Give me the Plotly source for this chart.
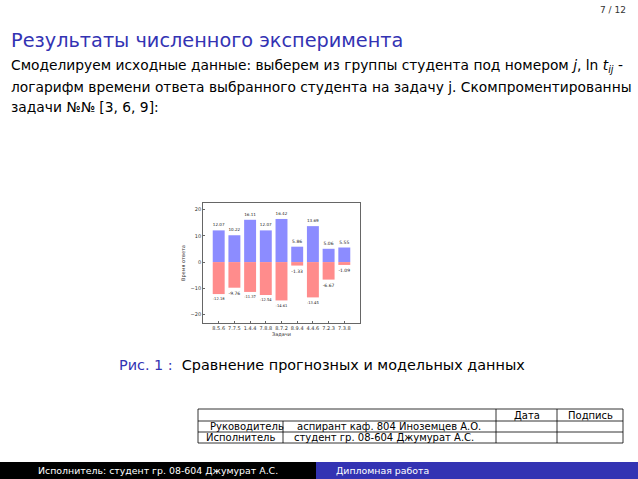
import plotly.graph_objects as go

W, H = 638, 479

categories = ["8.5.6", "7.7.5", "1.4.4", "7.8.8", "8.7.2", "8.9.4", "4.4.6", "7.2.3", "7.3.8"]
predicted = [12.07, 10.22, 16.11, 12.07, 16.42, 5.86, 13.69, 5.06, 5.55]
modelled = [-12.18, -9.76, -11.37, -12.54, -14.61, -1.33, -13.45, -6.67, -1.09]
y_ticks = [-20, -10, 0, 10, 20]

BLUE = "rgb(51,51,179)"
FONT = "DejaVu Sans"

fig = go.Figure()
fig.add_trace(go.Bar(
    x=categories, y=predicted, width=0.76,
    marker=dict(color="rgb(140,140,255)", line=dict(width=0)),
    text=[f"{v:.2f}" for v in predicted], textposition="outside",
    textfont=dict(size=4.5, color="#222", family=FONT), cliponaxis=False,
))
fig.add_trace(go.Bar(
    x=categories, y=modelled, width=0.76,
    marker=dict(color="rgb(255,140,140)", line=dict(width=0)),
    text=[f"{v:.2f}" for v in modelled], textposition="outside",
    textfont=dict(size=4.5, color="#222", family=FONT), cliponaxis=False,
))

x0, x1 = 203 / W, 360 / W
y0, y1 = 1 - 323 / H, 1 - 203 / H

fig.update_layout(
    width=W, height=H, margin=dict(l=0, r=0, t=0, b=0),
    paper_bgcolor="white", plot_bgcolor="white",
    barmode="overlay", showlegend=False,
    font=dict(family=FONT, color="black"),
    xaxis=dict(domain=[x0, x1], range=[-1, 9], showgrid=False, zeroline=False,
               showline=True, mirror=True, linecolor="#666", linewidth=0.8,
               ticks="inside", ticklen=2, tickcolor="#666",
               tickfont=dict(size=5, color="#333"),
               title=dict(text="Задачи", font=dict(size=5, color="#333"), standoff=2)),
    yaxis=dict(domain=[y0, y1], range=[-23.2, 22.5], tickvals=y_ticks,
               ticktext=[f"\u2212{abs(v)}" if v < 0 else str(v) for v in y_ticks],
               showgrid=False, zeroline=False,
               showline=True, mirror=True, linecolor="#666", linewidth=0.8,
               ticks="inside", ticklen=2, tickcolor="#666",
               tickfont=dict(size=5, color="#333"),
               title=dict(text="Время ответа", font=dict(size=5, color="#333"), standoff=4)),
)

ann = []
def txt(x, y, s, size, color="black", xanchor="left", yanchor="middle", family=FONT):
    ann.append(dict(x=x / W, y=1 - y / H, xref="paper", yref="paper", text=s,
                    showarrow=False, xanchor=xanchor, yanchor=yanchor,
                    font=dict(size=size, color=color, family=family)))

txt(628, 10, "7 / 12", 9, "#333", xanchor="right")
txt(9, 40, "Результаты численного эксперимента", 19.3, BLUE)
txt(9, 66, "Смоделируем исходные данные: выберем из группы студента под номером <i>j</i>, ln <i>t</i><sub><i>ij</i></sub> -", 13.8)
txt(9, 87, "логарифм времени ответа выбранного студента на задачу j. Скомпроментированны", 13.8)
txt(9, 107, "задачи №№ [3, 6, 9]:", 13.8)

txt(117, 365, "<span style='color:%s'>Рис. 1 :</span>  Сравнение прогнозных и модельных данных" % BLUE, 14.4)

# table
shapes = []
def line(xa, ya, xb, yb, color="black", w=0.8):
    shapes.append(dict(type="line", xref="paper", yref="paper",
                       x0=xa / W, y0=1 - ya / H, x1=xb / W, y1=1 - yb / H,
                       line=dict(color=color, width=w)))

tx = [198, 283, 496, 557, 623]
ty = [409, 421, 432, 443]
for yy in ty:
    line(tx[0], yy, tx[-1], yy)
line(tx[0], ty[0], tx[0], ty[-1])
line(tx[-1], ty[0], tx[-1], ty[-1])
for xx in tx[2:4]:
    line(xx, ty[0], xx, ty[-1])
line(tx[1], ty[1], tx[1], ty[-1])

TS = 10
txt((tx[2] + tx[3]) / 2, 415, "Дата", TS, xanchor="center")
txt((tx[3] + tx[4]) / 2, 415, "Подпись", TS, xanchor="center")
txt(208, 426.5, "Руководитель", TS)
txt(240.5, 437.5, "Исполнитель", TS, xanchor="center")
txt(295, 426.5, "аспирант каф. 804 Иноземцев А.О.", TS)
txt(292, 437.5, "студент гр. 08-604 Джумурат А.С.", TS)

# footer
shapes.append(dict(type="rect", xref="paper", yref="paper", x0=0, x1=316 / W,
                   y0=0, y1=1 - 462 / H, fillcolor="black", line=dict(width=0), layer="below"))
shapes.append(dict(type="rect", xref="paper", yref="paper", x0=316 / W, x1=1,
                   y0=0, y1=1 - 462 / H, fillcolor=BLUE, line=dict(width=0), layer="below"))
txt(158, 470.5, "Исполнитель: студент гр. 08-604 Джумурат А.С.", 9.4, "white", xanchor="center")
txt(334, 470.5, "Дипломная работа", 9.4, "white")

fig.update_layout(annotations=ann, shapes=shapes)
fig.write_html("out.html", config={"displayModeBar": False},
               post_script="document.body.style.margin='0';document.body.style.overflow='hidden';")
